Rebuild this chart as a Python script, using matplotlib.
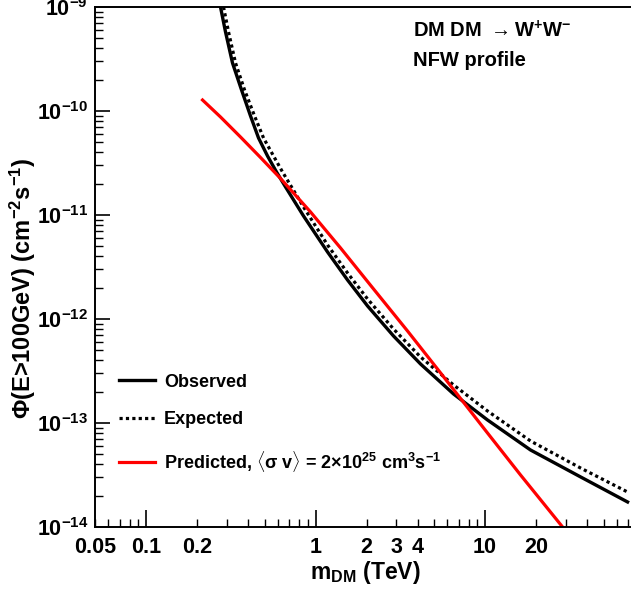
import matplotlib
matplotlib.use("Agg")
import matplotlib.pyplot as plt
from matplotlib.ticker import FixedLocator, FuncFormatter, LogLocator, NullFormatter

plt.rcParams['font.family'] = ['Liberation Sans', 'DejaVu Sans']
plt.rcParams['font.weight'] = 'bold'
plt.rcParams['mathtext.fontset'] = 'custom'
plt.rcParams['mathtext.rm'] = 'Liberation Sans:bold'
plt.rcParams['mathtext.it'] = 'Liberation Sans:bold'
plt.rcParams['mathtext.bf'] = 'Liberation Sans:bold'
plt.rcParams['mathtext.sf'] = 'Liberation Sans:bold'

# ---- data ----
obs_mass = [0.2750, 0.2944, 0.3237, 0.3660, 0.4135, 0.4610, 0.5210, 0.5887, 0.6653, 0.8494,
            1.177, 1.545, 2.027, 2.885, 4.165, 6.520, 10.34, 18.55, 36.60, 69.30]
obs_flux = [1.0e-9, 5.75e-10, 2.894e-10, 1.592e-10, 8.95e-11, 5.50e-11, 3.69e-11, 2.59e-11,
            1.86e-11, 9.78e-12, 4.41e-12, 2.37e-12, 1.334e-12, 6.86e-13, 3.69e-13, 1.90e-13,
            1.069e-13, 5.50e-14, 3.03e-14, 1.74e-14]

exp_mass = [0.2865, 0.3067, 0.3373, 0.3813, 0.4367, 0.4934, 0.5652, 0.6388, 0.7217, 0.8494,
            1.177, 1.545, 2.027, 2.885, 4.165, 6.520, 10.34, 18.55, 36.60, 69.30]
exp_flux = [1.0e-9, 5.75e-10, 2.894e-10, 1.592e-10, 8.95e-11, 5.50e-11, 3.69e-11, 2.59e-11,
            1.86e-11, 1.194e-11, 5.15e-12, 2.77e-12, 1.557e-12, 8.01e-13, 4.31e-13, 2.32e-13,
            1.304e-13, 6.71e-14, 3.69e-14, 2.17e-14]

pred_mass = [0.2154, 0.2750, 0.3610, 0.4737, 0.6216, 0.9344, 1.404, 2.199, 3.490, 5.465,
             10.34, 16.20, 28.66]
pred_flux = [1.276e-10, 8.76e-11, 5.62e-11, 3.57e-11, 2.244e-11, 1.069e-11, 4.82e-12, 1.943e-12,
             7.66e-13, 3.03e-13, 8.01e-14, 3.16e-14, 1.0e-14]

x_limits = [0.05, 72.6]
y_limits = [1e-14, 1e-9]
x_major_ticks = [0.1, 1, 10]
x_labeled = [0.05, 0.1, 0.2, 1, 2, 3, 4, 10, 20]
labels = ["Observed", "Expected",
          r"Predicted, $\langle\sigma$ v$\rangle$ = 2$\times$10$^{25}$ cm$^{3}$s$^{-1}$"]

W, H = 631, 590
fig = plt.figure(figsize=(W / 100, H / 100), dpi=100)
ax = fig.add_axes([95 / W, (H - 527) / H, (W - 95) / W, 520 / H])

ax.plot(obs_mass, obs_flux, color='black', lw=2.4, label=labels[0])
ax.plot(exp_mass, exp_flux, color='black', lw=2.3, linestyle=(0, (1, 1)), label=labels[1])
ax.plot(pred_mass, pred_flux, color='#ff0000', lw=2.3, label=labels[2])

ax.set_xscale('log')
ax.set_yscale('log')
ax.set_xlim(*x_limits)
ax.set_ylim(*y_limits)

ax.spines['right'].set_visible(False)
for s in ax.spines.values():
    s.set_linewidth(1.4)

# x ticks
ax.xaxis.set_major_locator(FixedLocator(x_major_ticks))
ax.xaxis.set_minor_locator(LogLocator(base=10, subs=[2, 3, 4, 5, 6, 7, 8, 9], numticks=20))

def fmt(v, pos=None):
    for t in x_labeled:
        if abs(v - t) / t < 1e-6:
            return "%g" % t
    return ""

ax.xaxis.set_major_formatter(FuncFormatter(fmt))
ax.xaxis.set_minor_formatter(FuncFormatter(fmt))
ax.tick_params(axis='x', which='major', direction='in', length=12, width=1.2, pad=7,
               labelsize=15.5, top=False)
ax.tick_params(axis='x', which='minor', direction='in', length=5.5, width=1.0, pad=7,
               labelsize=15.5, top=False)

# y ticks
ax.yaxis.set_major_locator(LogLocator(base=10, numticks=20))
ax.yaxis.set_minor_locator(LogLocator(base=10, subs=[2, 3, 4, 5, 6, 7, 8, 9], numticks=20))
ax.yaxis.set_minor_formatter(NullFormatter())
ax.tick_params(axis='y', which='major', direction='in', length=11, width=1.2, pad=5,
               labelsize=15.5, right=False)
ax.tick_params(axis='y', which='minor', direction='in', length=5.5, width=1.0, right=False)

ax.set_xlabel(r"m$_{\mathrm{DM}}$ (TeV)", fontsize=16.5, fontweight='bold')
ax.xaxis.set_label_coords((365 - 95) / (W - 95), -(573 - 527) / 520)
ax.set_ylabel(r"Φ(E>100GeV) (cm$^{-2}$s$^{-1}$)", fontsize=17, fontweight='bold')
ax.yaxis.set_label_coords(-(95 - 23) / (W - 95), (527 - 288) / 520)
ax.xaxis.label.set_va('center')
ax.yaxis.label.set_va('center')

fig.text(413 / W, 1 - 31 / H, r"DM DM $\rightarrow$W$^{+}$W$^{-}$", fontsize=14.5,
         fontweight='bold', ha='left', va='center')
fig.text(413 / W, 1 - 61 / H, "NFW profile", fontsize=14.5, fontweight='bold',
         ha='left', va='center')

leg = ax.legend(loc='center left', bbox_to_anchor=(119 / W, 1 - 424 / H),
                bbox_transform=fig.transFigure, frameon=False, fontsize=13,
                handlelength=2.0, handletextpad=0.5, labelspacing=1.15,
                borderpad=0, borderaxespad=0)
for t in leg.get_texts():
    t.set_fontweight('bold')

fig.savefig("out.png", dpi=100)
